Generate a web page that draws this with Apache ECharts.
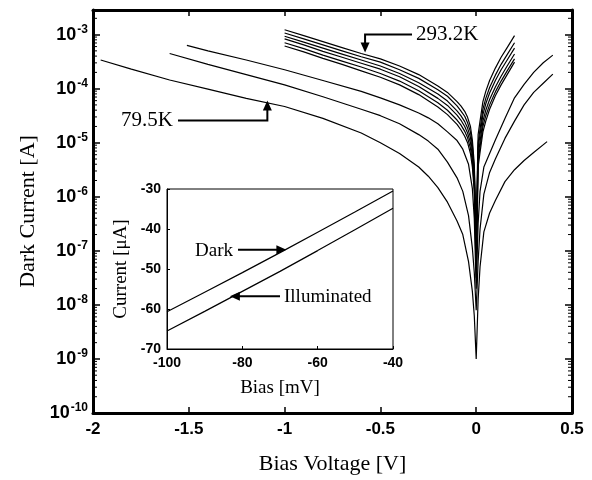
<!DOCTYPE html>
<html>
<head>
<meta charset="utf-8">
<script src="https://cdn.jsdelivr.net/npm/echarts@6/dist/echarts.min.js"></script>
<style>html,body{margin:0;padding:0;background:#fff;}#c{width:592px;height:480px;}</style>
</head>
<body>
<div id="c"></div>
<script>
// ---- Main plot data: bias voltage [V] and log10 of dark current [A] ----
const bias79K = [-1.96,-1.8,-1.6,-1.4,-1.2,-1.0,-0.8,-0.6,-0.5,-0.4,-0.3,-0.25,-0.2,-0.15,-0.1,-0.07,-0.04,-0.02,-0.01,0,0.01,0.02,0.04,0.07,0.1,0.15,0.2,0.25,0.3,0.37];
const log79K  = [-3.47,-3.64,-3.84,-4.01,-4.18,-4.33,-4.55,-4.82,-5.0,-5.2,-5.45,-5.62,-5.83,-6.1,-6.45,-6.7,-7.2,-7.75,-8.2,-9.0,-7.9,-7.3,-6.65,-6.3,-6.07,-5.72,-5.5,-5.33,-5.18,-4.98];

const biasT2 = [-1.6,-1.4,-1.2,-1.0,-0.8,-0.6,-0.5,-0.4,-0.3,-0.25,-0.2,-0.15,-0.1,-0.07,-0.04,-0.02,-0.01,0,0.01,0.02,0.04,0.07,0.1,0.15,0.2,0.25,0.3,0.35,0.4];
const logT2  = [-3.35,-3.55,-3.74,-3.93,-4.15,-4.38,-4.5,-4.65,-4.85,-4.97,-5.12,-5.36,-5.65,-5.9,-6.35,-6.95,-7.4,-8.1,-7.2,-6.6,-5.95,-5.55,-5.3,-4.92,-4.6,-4.3,-4.07,-3.9,-3.73];

const biasT3 = [-1.51,-1.4,-1.2,-1.0,-0.8,-0.6,-0.5,-0.4,-0.3,-0.25,-0.2,-0.15,-0.1,-0.07,-0.04,-0.02,-0.01,0,0.01,0.02,0.04,0.07,0.1,0.15,0.2,0.25,0.3,0.35,0.4];
const logT3  = [-3.2,-3.3,-3.47,-3.65,-3.85,-4.05,-4.17,-4.3,-4.45,-4.54,-4.65,-4.8,-4.96,-5.12,-5.4,-5.85,-6.4,-7.7,-6.5,-5.9,-5.45,-5.2,-4.95,-4.55,-4.17,-3.92,-3.7,-3.52,-3.38];

// high-temperature group (shared bias grid)
const biasGroup = [-1.0,-0.9,-0.8,-0.7,-0.6,-0.5,-0.4,-0.3,-0.2,-0.15,-0.1,-0.08,-0.06,-0.045,-0.03,-0.02,-0.01,0,0.01,0.02,0.035,0.05,0.07,0.1,0.13,0.16,0.2];
const logG1   = [-3.21,-3.32,-3.44,-3.55,-3.67,-3.79,-3.93,-4.11,-4.34,-4.48,-4.66,-4.76,-4.88,-5.0,-5.2,-5.45,-5.9,-7.5,-5.45,-5.18,-4.8,-4.6,-4.38,-4.13,-3.93,-3.75,-3.51];
const logG2   = [-3.15,-3.26,-3.38,-3.49,-3.6,-3.72,-3.86,-4.04,-4.26,-4.4,-4.58,-4.67,-4.79,-4.91,-5.1,-5.35,-5.8,-7.3,-5.35,-5.08,-4.7,-4.5,-4.3,-4.06,-3.86,-3.68,-3.45];
const logG3   = [-3.08,-3.19,-3.31,-3.42,-3.53,-3.64,-3.78,-3.96,-4.18,-4.31,-4.49,-4.58,-4.7,-4.82,-5.0,-5.25,-5.7,-7.1,-5.25,-4.98,-4.6,-4.4,-4.2,-3.97,-3.77,-3.59,-3.36];
const logG4   = [-3.03,-3.14,-3.25,-3.36,-3.47,-3.58,-3.72,-3.89,-4.1,-4.23,-4.41,-4.5,-4.61,-4.73,-4.9,-5.15,-5.6,-7.0,-5.1,-4.85,-4.48,-4.28,-4.08,-3.85,-3.65,-3.48,-3.25];
const logG5   = [-2.97,-3.08,-3.19,-3.3,-3.41,-3.51,-3.65,-3.81,-4.02,-4.14,-4.32,-4.41,-4.51,-4.63,-4.8,-5.05,-5.5,-6.8,-5.0,-4.75,-4.38,-4.18,-3.98,-3.75,-3.55,-3.38,-3.15];
const log293K = [-2.91,-3.02,-3.13,-3.24,-3.35,-3.45,-3.58,-3.74,-3.95,-4.07,-4.24,-4.32,-4.42,-4.53,-4.7,-4.95,-5.4,-6.6,-4.85,-4.6,-4.24,-4.05,-3.85,-3.62,-3.42,-3.25,-3.02];

// ---- Inset data ----
const insetBias = [-100,-90,-80,-70,-60,-50,-40];
const darkCurrent = [-60.7,-55.8,-50.9,-45.9,-40.8,-35.7,-30.5];
const illumCurrent = [-65.5,-60.6,-55.6,-50.6,-45.4,-40.1,-34.8];

// axis ranges / ticks
const xMin = -2, xMax = 0.5, xStep = 0.5;
const yMinExp = -10, yMaxExp = -2.545;
const minorMultipliers = [2,3,4,5,6,7,8,9];

const SANS = 'Liberation Sans, Arial, sans-serif';
const SERIF = 'Liberation Serif, Times New Roman, serif';

function zipLog(v, l) { return v.map((x, i) => [x, Math.pow(10, l[i])]); }
function zip(v, l) { return v.map((x, i) => [x, l[i]]); }

const yMax = Math.pow(10, yMaxExp);
const minorData = [];
for (let e = yMinExp; e < Math.ceil(yMaxExp); e++) {
  minorMultipliers.forEach(m => {
    const v = m * Math.pow(10, e);
    if (v < yMax) { minorData.push([xMin, v]); minorData.push([xMax, v]); }
  });
}

const mainCurves = [
  zipLog(bias79K, log79K), zipLog(biasT2, logT2), zipLog(biasT3, logT3),
  zipLog(biasGroup, logG1), zipLog(biasGroup, logG2), zipLog(biasGroup, logG3),
  zipLog(biasGroup, logG4), zipLog(biasGroup, logG5), zipLog(biasGroup, log293K)
];

const chart = echarts.init(document.getElementById('c'), null, {renderer: 'canvas'});

const lineBase = {type: 'line', showSymbol: false, symbol: 'none', silent: true,
  lineStyle: {color: '#000', width: 1.2}, animation: false};

const series = mainCurves.map(d => Object.assign({}, lineBase, {xAxisIndex: 0, yAxisIndex: 0, data: d}));
series.push({
  type: 'custom', xAxisIndex: 0, yAxisIndex: 0, data: minorData, silent: true, clip: false, animation: false,
  renderItem: function (params, api) {
    const p = api.coord([api.value(0), api.value(1)]);
    const dir = api.value(0) < 0 ? 1 : -1;
    return {type: 'line', shape: {x1: p[0], y1: p[1], x2: p[0] + dir * 4, y2: p[1]},
      style: {stroke: '#000', lineWidth: 1}};
  }
});
series.push(Object.assign({}, lineBase, {xAxisIndex: 2, yAxisIndex: 2, data: zip(insetBias, darkCurrent)}));
series.push(Object.assign({}, lineBase, {xAxisIndex: 2, yAxisIndex: 2, data: zip(insetBias, illumCurrent)}));

const frameLine = {show: true, onZero: false, lineStyle: {color: '#000', width: 3}};

chart.setOption({
  animation: false,
  backgroundColor: '#fff',
  grid: [
    {left: 93, top: 10, width: 479, height: 410, show: false},
    {left: 167, top: 189, width: 226, height: 160, show: true, backgroundColor: '#fff', borderColor: '#000', borderWidth: 1}
  ],
  xAxis: [
    {gridIndex: 0, type: 'value', min: xMin, max: xMax, interval: xStep, position: 'bottom',
     axisLine: frameLine, axisTick: {inside: true, length: 6, lineStyle: {color: '#000', width: 1.5}},
     axisLabel: {fontFamily: SANS, fontWeight: 'bold', fontSize: 17, color: '#000', margin: 8},
     splitLine: {show: false},
     name: 'Bias Voltage [V]', nameLocation: 'middle', nameGap: 40,
     nameTextStyle: {fontFamily: SERIF, fontSize: 22, color: '#000'}},
    {gridIndex: 0, type: 'value', min: xMin, max: xMax, interval: xStep, position: 'top',
     axisLine: frameLine, axisTick: {inside: true, length: 6, lineStyle: {color: '#000', width: 1.5}},
     axisLabel: {show: false}, splitLine: {show: false}},
    {gridIndex: 1, type: 'value', min: -100, max: -40, interval: 20, position: 'bottom',
     axisLine: {show: true, onZero: false, lineStyle: {color: '#000', width: 1}},
     axisTick: {inside: true, length: 3, lineStyle: {color: '#000'}},
     axisLabel: {fontFamily: SANS, fontWeight: 'bold', fontSize: 14, color: '#000', margin: 7},
     splitLine: {show: false},
     name: 'Bias [mV]', nameLocation: 'middle', nameGap: 30,
     nameTextStyle: {fontFamily: SERIF, fontSize: 19, color: '#000'}}
  ],
  yAxis: [
    {gridIndex: 0, type: 'log', logBase: 10, min: Math.pow(10, yMinExp), max: yMax, interval: 1, splitNumber: 8,
     position: 'left', axisLine: frameLine,
     axisTick: {inside: true, length: 7, lineStyle: {color: '#000', width: 1.5}},
     axisLabel: {showMaxLabel: false, margin: 5,
       formatter: function (v) { return '{b|10}{s|' + Math.round(Math.log10(v)) + '}'; },
       rich: {b: {fontFamily: SANS, fontWeight: 'bold', fontSize: 18, color: '#000'},
              s: {fontFamily: SANS, fontWeight: 'bold', fontSize: 12, color: '#000', verticalAlign: 'bottom', padding: [0, 0, 10, 1]}}},
     splitLine: {show: false},
     name: 'Dark Current [A]', nameLocation: 'middle', nameGap: 54,
     nameTextStyle: {fontFamily: SERIF, fontSize: 22, color: '#000'}},
    {gridIndex: 0, type: 'log', logBase: 10, min: Math.pow(10, yMinExp), max: yMax, interval: 1, splitNumber: 8,
     position: 'right', axisLine: frameLine,
     axisTick: {inside: true, length: 7, lineStyle: {color: '#000', width: 1.5}},
     axisLabel: {show: false}, splitLine: {show: false}},
    {gridIndex: 1, type: 'value', min: -70, max: -30, interval: 10, position: 'left',
     axisLine: {show: true, onZero: false, lineStyle: {color: '#000', width: 1}},
     axisTick: {inside: true, length: 3, lineStyle: {color: '#000'}},
     axisLabel: {fontFamily: SANS, fontWeight: 'bold', fontSize: 14, color: '#000', margin: 6},
     splitLine: {show: false},
     name: 'Current [μA]', nameLocation: 'middle', nameGap: 36,
     nameTextStyle: {fontFamily: SERIF, fontSize: 19, color: '#000'}}
  ],
  series: series
});

// ---- annotations anchored to data coordinates ----
function arrowHead(tip, dir) {
  const [x, y] = tip, L = 10, W = 4.5;
  let pts;
  if (dir === 'up') pts = [[x, y], [x - W, y + L], [x + W, y + L]];
  else if (dir === 'down') pts = [[x, y], [x - W, y - L], [x + W, y - L]];
  else if (dir === 'right') pts = [[x, y], [x - L, y - W], [x - L, y + W]];
  else pts = [[x, y], [x + L, y - W], [x + L, y + W]];
  return {type: 'polygon', shape: {points: pts}, style: {fill: '#000'}, z: 100};
}
function poly(points) {
  return {type: 'polyline', shape: {points: points}, style: {stroke: '#000', lineWidth: 2, fill: null}, z: 100};
}
function label(text, x, y, align, size) {
  return {type: 'text', x: x, y: y, z: 100,
    style: {text: text, fontFamily: SERIF, fontSize: size, fill: '#000', textAlign: align, textVerticalAlign: 'middle'}};
}

const tipLow = chart.convertToPixel({xAxisIndex: 0, yAxisIndex: 0}, [-1.09, Math.pow(10, -4.22)]);
const tipHigh = chart.convertToPixel({xAxisIndex: 0, yAxisIndex: 0}, [-0.58, Math.pow(10, -3.33)]);
const tipDark = chart.convertToPixel({xAxisIndex: 2, yAxisIndex: 2}, [-68.3, -45.2]);
const tipIllum = chart.convertToPixel({xAxisIndex: 2, yAxisIndex: 2}, [-83.3, -56.8]);

const g = [];
const lowY = tipLow[1] + 20;
g.push(poly([[tipLow[0], tipLow[1] + 6], [tipLow[0], lowY], [178, lowY]]));
g.push(arrowHead(tipLow, 'up'));
g.push(label('79.5K', 173, lowY, 'right', 21));
const highY = tipHigh[1] - 18;
g.push(poly([[tipHigh[0], tipHigh[1] - 6], [tipHigh[0], highY], [412, highY]]));
g.push(arrowHead(tipHigh, 'down'));
g.push(label('293.2K', 416, highY, 'left', 21));
g.push(poly([[238, tipDark[1]], [tipDark[0] - 6, tipDark[1]]]));
g.push(arrowHead(tipDark, 'right'));
g.push(label('Dark', 233, tipDark[1] + 1, 'right', 19));
g.push(poly([[tipIllum[0] + 6, tipIllum[1]], [280, tipIllum[1]]]));
g.push(arrowHead(tipIllum, 'left'));
g.push(label('Illuminated', 284, tipIllum[1] + 1, 'left', 19));

chart.setOption({graphic: g});
</script>
</body>
</html>
